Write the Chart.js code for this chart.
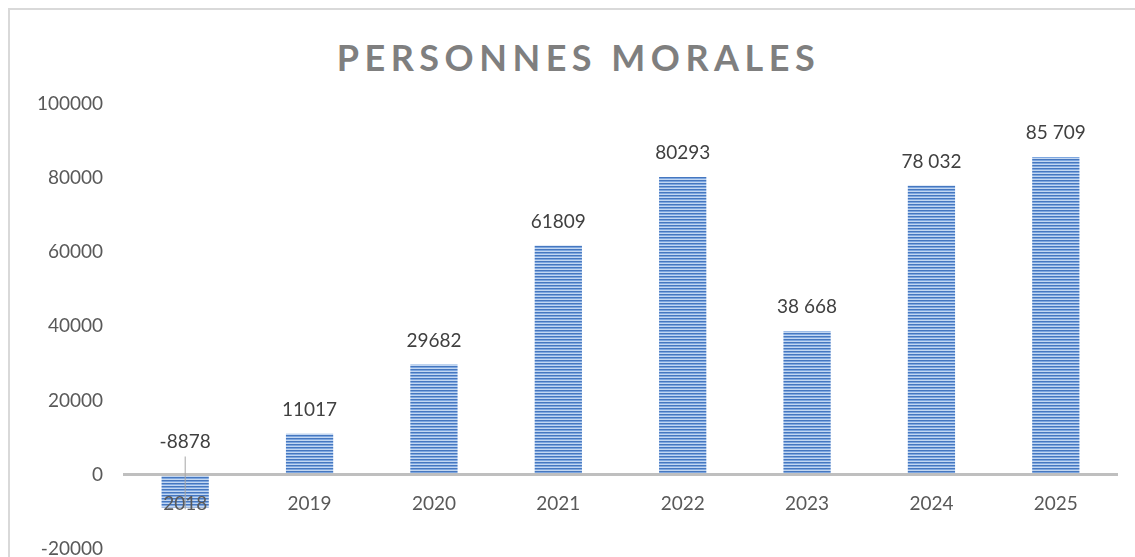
<!DOCTYPE html>
<html>
<head>
<meta charset="utf-8">
<script src="https://cdn.jsdelivr.net/npm/chart.js@4.4.0/dist/chart.umd.min.js"></script>
<style>
  html, body { margin: 0; padding: 0; background: #fff; }
  #wrap { position: relative; width: 1135px; height: 557px; overflow: hidden; }
  #frame { position: absolute; left: 8px; top: 8px; width: 1200px; height: 600px;
           border-left: 2px solid #d9d9d9; border-top: 2px solid #d9d9d9; }
  #title { position: absolute; left: 0; top: 35px; width: 1157px; text-align: center;
           font: bold 36px Lato, "Open Sans", sans-serif; color: #7f7f7f; letter-spacing: 5.5px; }
  #c { position: absolute; left: 0; top: 0; }
</style>
</head>
<body>
<div id="wrap">
  <div id="frame"></div>
  <div id="title">PERSONNES MORALES</div>
  <canvas id="c" width="1135" height="572"></canvas>
</div>
<script>
// data
var years = ['2018', '2019', '2020', '2021', '2022', '2023', '2024', '2025'];
var values = [-8878, 11017, 29682, 61809, 80293, 38668, 78032, 85709];
var valueLabels = ['-8878', '11017', '29682', '61809', '80293', '38 668', '78 032', '85 709'];
var yMin = -20000, yMax = 100000, yStep = 20000;

var FONT = 'Lato, "Open Sans", sans-serif';

// striped fill like the Excel pattern
function stripePattern(ctx) {
    var p = document.createElement('canvas');
    p.width = 4; p.height = 3;
    var pc = p.getContext('2d');
    pc.fillStyle = '#4677bf'; pc.fillRect(0, 0, 4, 1);
    pc.fillStyle = '#7ea7e0'; pc.fillRect(0, 1, 4, 1);
    pc.fillStyle = '#c3d7f1'; pc.fillRect(0, 2, 4, 1);
    return ctx.createPattern(p, 'repeat');
}

// zero line, category labels and value labels
var excelBits = {
    id: 'excelBits',
    afterDatasetsDraw: function(chart) {
        var ctx = chart.ctx, xs = chart.scales.x, ys = chart.scales.y;
        var y0 = ys.getPixelForValue(0);
        ctx.save();
        ctx.strokeStyle = '#bfbfbf';
        ctx.lineWidth = 3;
        ctx.beginPath();
        ctx.moveTo(chart.chartArea.left, y0);
        ctx.lineTo(chart.chartArea.right, y0);
        ctx.stroke();

        ctx.font = '19px ' + FONT;
        ctx.fillStyle = '#595959';
        ctx.textAlign = 'center';
        ctx.textBaseline = 'middle';
        years.forEach(function(y, i) {
            ctx.fillText(y, xs.getPixelForValue(i), y0 + 29);
        });

        ctx.fillStyle = '#404040';
        values.forEach(function(v, i) {
            var x = xs.getPixelForValue(i);
            var top = ys.getPixelForValue(Math.max(v, 0));
            if (v < 0) {
                ctx.strokeStyle = '#a6a6a6';
                ctx.lineWidth = 1;
                ctx.beginPath();
                ctx.moveTo(x, y0 - 18);
                ctx.lineTo(x, ys.getPixelForValue(v) + 2);
                ctx.stroke();
                ctx.fillText(valueLabels[i], x, y0 - 33);
            } else {
                ctx.fillText(valueLabels[i], x, top - 24);
            }
        });
        ctx.restore();
    }
};

var canvas = document.getElementById('c');
var ctx = canvas.getContext('2d');

new Chart(canvas, {
    type: 'bar',
    data: {
        labels: years,
        datasets: [{
            data: values,
            backgroundColor: stripePattern(ctx),
            borderWidth: 0,
            categoryPercentage: 1,
            barPercentage: 0.38
        }]
    },
    options: {
        responsive: false,
        animation: false,
        devicePixelRatio: 1,
        layout: { padding: { left: 0, right: 17, top: 104, bottom: 10 } },
        plugins: { legend: { display: false }, tooltip: { enabled: false } },
        scales: {
            x: { display: false },
            y: {
                min: yMin, max: yMax,
                grid: { display: false },
                border: { display: false },
                ticks: {
                    stepSize: yStep, color: '#595959', padding: 12,
                    font: { size: 19, family: FONT },
                    callback: function(v) { return String(v); }
                },
                afterFit: function(s) { s.width = 123; }
            }
        }
    },
    plugins: [excelBits]
});
</script>
</body>
</html>
